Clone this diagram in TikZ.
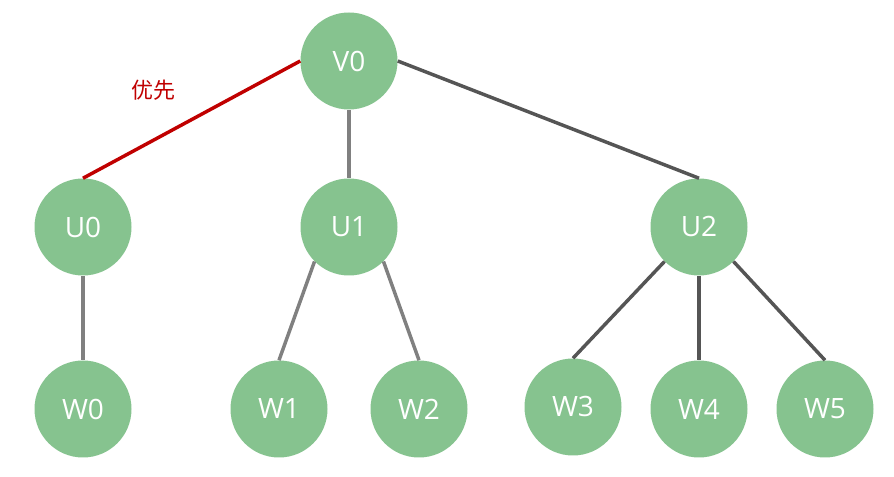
\documentclass[tikz,border=0pt]{standalone}
\usepackage{fontspec}
\setmainfont{Open Sans}
\newfontfamily\cjk{Noto Sans CJK SC}
\definecolor{nodegreen}{HTML}{86C38F}
\definecolor{lightedge}{HTML}{808080}
\definecolor{darkedge}{HTML}{555555}
\definecolor{prio}{HTML}{C00000}
\begin{document}
\begin{tikzpicture}[x=0.75pt,y=-0.75pt,
  vert/.style={circle,fill=nodegreen,minimum size=72.75pt,inner sep=0pt,text=white,font=\fontsize{21}{24}\selectfont},
  lightline/.style={draw=lightedge,line width=2.6pt},
  darkline/.style={draw=darkedge,line width=2.6pt},
  prioline/.style={draw=prio,line width=2.6pt}]
\useasboundingbox (0,0) rectangle (894,477);
\node[vert] (V0) at (349,61) {V0};
\node[vert] (U0) at (83,227) {U0};
\node[vert] (U1) at (349,227) {U1};
\node[vert] (U2) at (699,227) {U2};
\node[vert] (W0) at (83,409) {W0};
\node[vert] (W1) at (279,409) {W1};
\node[vert] (W2) at (419,409) {W2};
\node[vert] (W3) at (573,407) {W3};
\node[vert] (W4) at (699,409) {W4};
\node[vert] (W5) at (825,409) {W5};
\node[text=prio,font=\cjk\fontsize{16.5}{18}\selectfont] (lab) at (153,90) {优先};
\draw[prioline] (V0.west) -- (U0.north);
\draw[lightline] (V0.south) -- (U1.north);
\draw[darkline] (V0.east) -- (U2.north);
\draw[lightline] (U0.south) -- (W0.north);
\draw[lightline] (U1.south west) -- (W1.north);
\draw[lightline] (U1.south east) -- (W2.north);
\draw[darkline] (U2.south west) -- (W3.north);
\draw[darkline] (U2.south) -- (W4.north);
\draw[darkline] (U2.south east) -- (W5.north);
\end{tikzpicture}
\end{document}
